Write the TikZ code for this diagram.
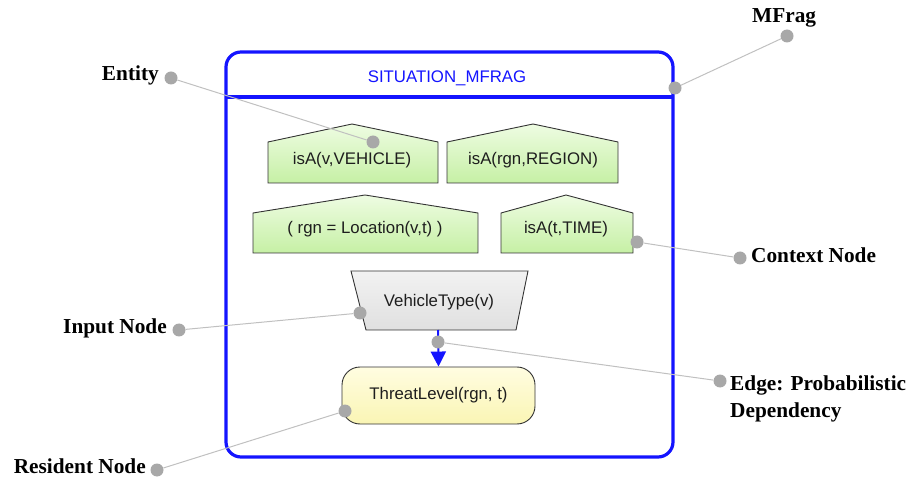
\documentclass[tikz,border=0pt]{standalone}
\usepackage{fontspec}
\setmainfont{Liberation Serif}
\newfontfamily\nodefont{Liberation Sans}
\usetikzlibrary{arrows.meta}
\definecolor{mfblue}{RGB}{20,20,255}
\definecolor{dotgray}{RGB}{168,168,168}
\definecolor{leadgray}{RGB}{192,192,192}
\definecolor{ctxtop}{RGB}{238,252,226}
\definecolor{ctxbot}{RGB}{198,240,165}
\definecolor{restop}{RGB}{255,253,225}
\definecolor{resbot}{RGB}{250,245,180}
\definecolor{inptop}{RGB}{242,242,242}
\definecolor{inpbot}{RGB}{224,224,224}
\definecolor{txtdark}{RGB}{30,30,30}
\tikzset{
  ctxshape/.style={draw=black!80, line width=0.9pt, top color=ctxtop, bottom color=ctxbot},
  inpshape/.style={draw=black!80, line width=0.9pt, top color=inptop, bottom color=inpbot},
  resshape/.style={draw=black!80, line width=0.9pt, top color=restop, bottom color=resbot, rounded corners=18pt, minimum width=193pt, minimum height=57pt, inner sep=0pt},
  ntext/.style={font=\nodefont\fontsize{16.8}{20}\selectfont, text=txtdark, inner sep=0pt},
  lbl/.style={font=\bfseries\fontsize{21.3}{26}\selectfont, text=black, inner sep=0pt},
  dotn/.style={circle, fill=dotgray, minimum size=13pt, inner sep=0pt},
  lead/.style={draw=leadgray, line width=1pt},
  mfline/.style={draw=mfblue, line width=3.2pt}
}
\begin{document}
\begin{tikzpicture}[x=1pt,y=-1pt]
\useasboundingbox (0,0) rectangle (913,478);
% MFrag frame
\draw[mfline, rounded corners=15pt] (226,52) rectangle (673,457);
\draw[mfline] (226,97) -- (673,97);
\node[ntext, text=mfblue] (title) at (447,78) {SITUATION\_MFRAG};
% context nodes
\path[ctxshape] (268,183) -- (268,142) -- (352,124) -- (438,142) -- (438,183) -- cycle;
\node[ntext] (c1) at (352,160) {isA(v,VEHICLE)};
\path[ctxshape] (447,183) -- (447,142) -- (533,124) -- (618,142) -- (618,183) -- cycle;
\node[ntext] (c2) at (533,160) {isA(rgn,REGION)};
\path[ctxshape] (253,253) -- (253,213) -- (365,195) -- (478,213) -- (478,253) -- cycle;
\node[ntext] (c3) at (365,229) {( rgn = Location(v,t) )};
\path[ctxshape] (501,253) -- (501,213) -- (566,195) -- (633,213) -- (633,253) -- cycle;
\node[ntext] (c4) at (566,229) {isA(t,TIME)};
% input node
\path[inpshape] (351,271) -- (528,271) -- (516,330) -- (366,330) -- cycle;
\node[ntext] (inp) at (439,302) {VehicleType(v)};
\coordinate (inpb) at (438,330);
% resident node
\node[resshape, ntext] (res) at (438.5,395.5) {ThreatLevel(rgn, t)};
% edge
\draw[draw=mfblue, line width=2pt, -{Triangle[length=15pt,width=15pt]}] (inpb) -- (res.north);
% callout dots
\node[dotn] (dEntL) at (171,78) {};
\node[dotn] (dEntR) at (373,142) {};
\node[dotn] (dMfL) at (787,36) {};
\node[dotn] (dMfR) at (675,88) {};
\node[dotn] (dCtxL) at (637,242) {};
\node[dotn] (dCtxR) at (740,258) {};
\node[dotn] (dInpL) at (179,330) {};
\node[dotn] (dInpR) at (360,313) {};
\node[dotn] (dEdgL) at (438,342) {};
\node[dotn] (dEdgR) at (720,381) {};
\node[dotn] (dResL) at (157,470) {};
\node[dotn] (dResR) at (345,411) {};
% leader lines
\draw[lead] (dEntL) -- (dEntR);
\draw[lead] (dMfL) -- (dMfR);
\draw[lead] (dCtxL) -- (dCtxR);
\draw[lead] (dInpL) -- (dInpR);
\draw[lead] (dEdgL) -- (dEdgR);
\draw[lead] (dResL) -- (dResR);
% labels
\node[lbl, anchor=base east] (lEnt) at (159,81) {Entity};
\node[lbl, anchor=base west] (lMf) at (752,23) {MFrag};
\node[lbl, anchor=base west] (lCtx) at (751,263) {Context Node};
\node[lbl, anchor=base east] (lInp) at (167,334) {Input Node};
\node[lbl, anchor=base west] (lEdg1) at (730,390) {Edge: Probabilistic};
\node[lbl, anchor=base west] (lEdg2) at (730,417) {Dependency};
\node[lbl, anchor=base east] (lRes) at (146,473) {Resident Node};
\end{tikzpicture}
\end{document}
